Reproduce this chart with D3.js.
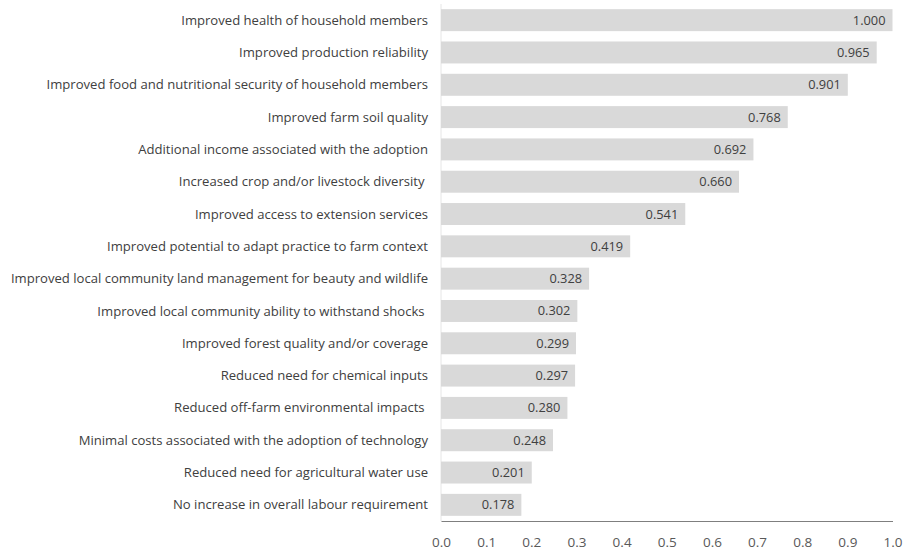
<!DOCTYPE html>
<html><head><meta charset="utf-8">
<script src="https://cdn.jsdelivr.net/npm/d3@7"></script>
<style>
body{margin:0;background:#fff;}
svg{display:block;}
text{font-family:"Open Sans",sans-serif;}
</style></head>
<body><svg id="c" width="908" height="550"></svg>
<script>
const categories = [
  "Improved health of household members",
  "Improved production reliability",
  "Improved food and nutritional security of household members",
  "Improved farm soil quality",
  "Additional income associated with the adoption",
  "Increased crop and/or livestock diversity ",
  "Improved access to extension services",
  "Improved potential to adapt practice to farm context",
  "Improved local community land management for beauty and wildlife",
  "Improved local community ability to withstand shocks ",
  "Improved forest quality and/or coverage",
  "Reduced need for chemical inputs",
  "Reduced off-farm environmental impacts ",
  "Minimal costs associated with the adoption of technology",
  "Reduced need for agricultural water use",
  "No increase in overall labour requirement"
];
const values = [1.000,0.965,0.901,0.768,0.692,0.660,0.541,0.419,0.328,0.302,0.299,0.297,0.280,0.248,0.201,0.178];
const tickValues = [0,0.1,0.2,0.3,0.4,0.5,0.6,0.7,0.8,0.9,1.0];

const svg = d3.select("#c");
const x = d3.scaleLinear().domain([0,1]).range([441,892.5]);
const y = d3.scaleBand().domain(categories).range([4,521]).paddingInner(0.32).paddingOuter(0.16);

svg.append("line").attr("x1",x(0)).attr("x2",x(0)).attr("y1",4).attr("y2",521)
  .attr("stroke","#e6e6e6").attr("stroke-width",1);

svg.selectAll("rect.bar").data(values).join("rect").attr("class","bar")
  .attr("x",x(0)).attr("y",(d,i)=>y(categories[i]))
  .attr("width",d=>x(d)-x(0)).attr("height",y.bandwidth())
  .attr("fill","#d9d9d9");

svg.selectAll("text.val").data(values).join("text").attr("class","val")
  .attr("x",d=>x(d)-7).attr("y",(d,i)=>y(categories[i])+y.bandwidth()/2)
  .attr("dy","0.35em").attr("text-anchor","end")
  .attr("font-size",12.8).attr("fill","#404040")
  .text(d=>d3.format(".3f")(d));

svg.selectAll("text.cat").data(categories).join("text").attr("class","cat")
  .attr("x",428).attr("y",d=>y(d)+y.bandwidth()/2)
  .attr("dy","0.35em").attr("text-anchor","end")
  .attr("font-size",13.1).attr("fill","#404040")
  .style("white-space","pre")
  .text(d=>d);

const xAxis = d3.axisBottom(x).tickValues(tickValues).tickSize(0).tickPadding(0).tickFormat(d3.format(".1f"));
const g = svg.append("g").attr("transform","translate(0,521)").call(xAxis);
g.select(".domain").attr("stroke","#7f7f7f").attr("stroke-width",1.2);
g.selectAll(".tick text").attr("y",25.5).attr("dy",null)
  .attr("font-size",13.5).attr("fill","#595959").attr("font-family","'Open Sans',sans-serif");
</script></body></html>
